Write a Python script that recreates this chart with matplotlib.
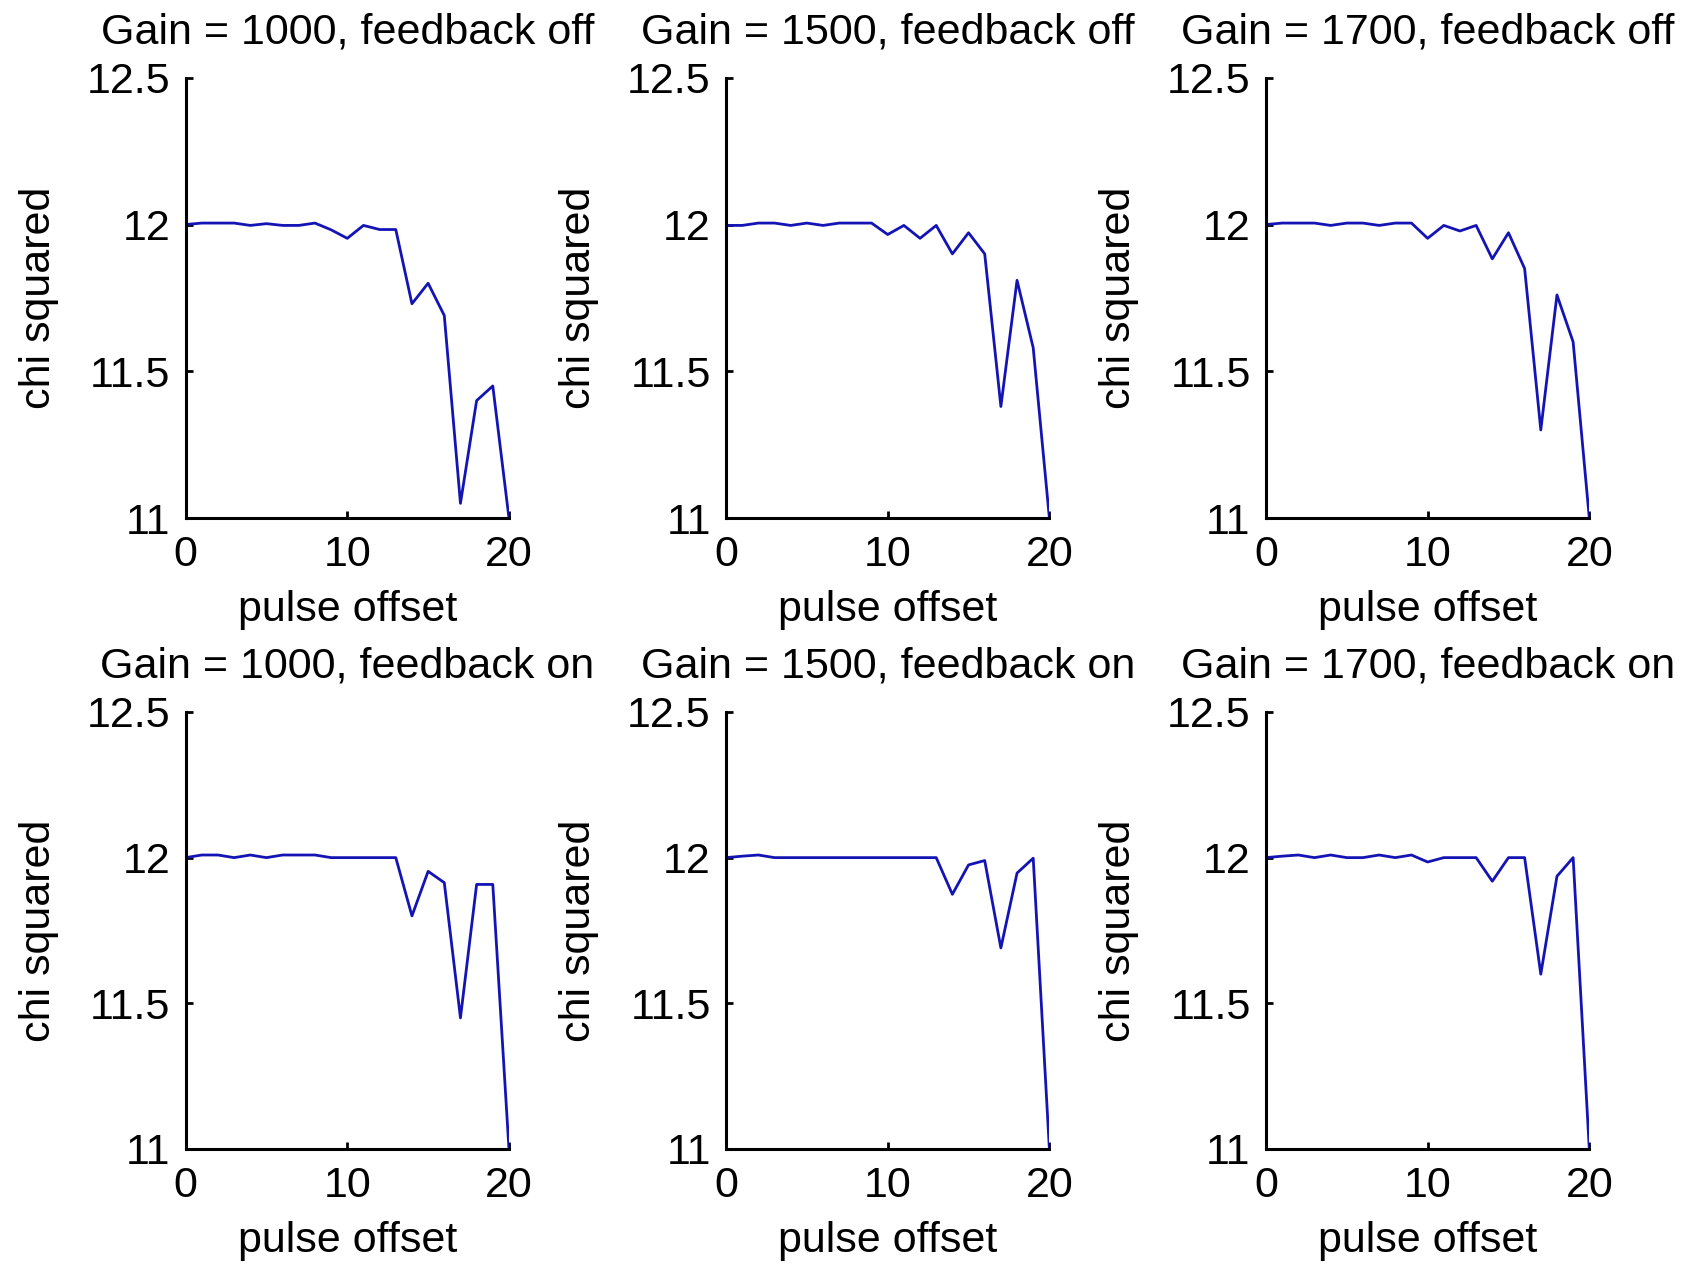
import matplotlib
matplotlib.use("Agg")
import matplotlib.pyplot as plt

plt.rcParams['font.family'] = ['Liberation Sans', 'DejaVu Sans']

# pulse offsets shared by every panel
pulse_offset = [0, 1, 2, 3, 4, 5, 6, 7, 8, 9, 10,
                11, 12, 13, 14, 15, 16, 17, 18, 19, 20]

# chi squared, feedback off
off_1000 = [12.0, 12.005, 12.005, 12.005, 11.997, 12.003, 11.997, 11.997, 12.005, 11.982, 11.953,
            11.997, 11.983, 11.983, 11.73, 11.80, 11.69, 11.05, 11.40, 11.45, 11.0]
off_1500 = [11.997, 11.997, 12.005, 12.005, 11.997, 12.005, 11.997, 12.005, 12.005, 12.005, 11.966,
            11.997, 11.953, 11.997, 11.90, 11.972, 11.90, 11.38, 11.81, 11.58, 11.0]
off_1700 = [12.0, 12.005, 12.005, 12.005, 11.997, 12.005, 12.005, 11.997, 12.005, 12.005, 11.953,
            11.997, 11.978, 11.997, 11.883, 11.972, 11.85, 11.30, 11.76, 11.60, 11.0]

# chi squared, feedback on
on_1000 = [12.0, 12.009, 12.009, 12.0, 12.009, 12.0, 12.009, 12.009, 12.009, 12.0, 12.0,
           12.0, 12.0, 12.0, 11.80, 11.953, 11.914, 11.45, 11.908, 11.908, 11.0]
on_1500 = [12.0, 12.005, 12.009, 12.0, 12.0, 12.0, 12.0, 12.0, 12.0, 12.0, 12.0,
           12.0, 12.0, 12.0, 11.874, 11.975, 11.99, 11.69, 11.947, 11.998, 11.0]
on_1700 = [12.0, 12.005, 12.009, 12.0, 12.009, 12.0, 12.0, 12.009, 12.0, 12.009, 11.985,
           12.0, 12.0, 12.0, 11.919, 12.0, 12.0, 11.60, 11.936, 12.0, 11.0]

gains = ["1000", "1500", "1700"]
rows = [("off", [off_1000, off_1500, off_1700]),
        ("on", [on_1000, on_1500, on_1700])]

x_ticks = [0, 10, 20]
y_ticks = [11, 11.5, 12, 12.5]
y_ticklabels = ["11", "11.5", "12", "12.5"]

fig = plt.figure(figsize=(16.92, 12.65), dpi=100)

lefts = [0.1097, 0.4291, 0.7482]
bottoms = [0.5905, 0.0917]
heights = [0.348, 0.3455]
width = 0.1911

for r, (state, series) in enumerate(rows):
    for c, g in enumerate(gains):
        ax = fig.add_axes([lefts[c], bottoms[r], width, heights[r]])
        ax.plot(pulse_offset, series[c], color="#1414b4", lw=2.0)
        ax.set_xlim(0, 20)
        ax.set_ylim(11, 12.5)
        ax.set_xticks(x_ticks)
        ax.set_yticks(y_ticks)
        ax.set_yticklabels(y_ticklabels)
        for s in ["top", "right"]:
            ax.spines[s].set_visible(False)
        for s in ["left", "bottom"]:
            ax.spines[s].set_linewidth(2.2)
        ax.tick_params(direction="in", length=5, width=2, labelsize=31, pad=12)
        ax.tick_params(axis="y", pad=11)
        ax.set_xlabel("pulse offset", fontsize=31, labelpad=11)
        ax.set_ylabel("chi squared", fontsize=31, labelpad=20)
        ax.set_title("Gain = %s, feedback %s" % (g, state), fontsize=31, pad=25)

fig.savefig("out.png", dpi=100)
